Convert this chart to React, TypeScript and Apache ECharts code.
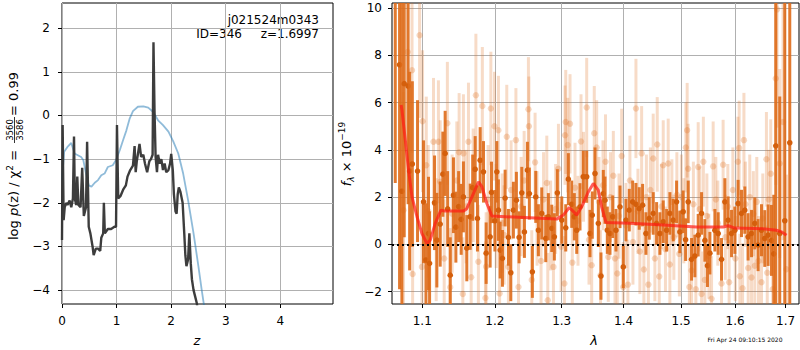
import React, { useEffect, useRef } from "react";
import * as echarts from "echarts";

const zTicks = [0, 1, 2, 3, 4];
const logpTicks = [-4, -3, -2, -1, 0, 1, 2];
const lamTicks = [1.1, 1.2, 1.3, 1.4, 1.5, 1.6, 1.7];
const fluxTicks = [-2, 0, 2, 4, 6, 8, 10];

// log p(z) (dark) and the smoother blue curve
const pzDark: [number, number][] = [
  [0.0, -2.85], [0.012, -0.22], [0.022, -1.5], [0.03, -2.4], [0.05, -2.1], [0.08, -2.0], [0.1, -2.05], [0.14, -1.95],
  [0.17, -2.1], [0.2, -1.9], [0.22, -0.48], [0.235, -1.9], [0.26, -2.05], [0.28, -1.4], [0.3, -2.05], [0.34, -2.1],
  [0.37, -1.2], [0.4, -2.3], [0.44, -2.1], [0.46, -0.6], [0.49, -2.55], [0.52, -2.7], [0.56, -3.0], [0.58, -3.2],
  [0.62, -3.05], [0.66, -3.05], [0.7, -3.1], [0.72, -2.8], [0.755, -2.7], [0.767, -2.0], [0.785, -2.7], [0.84, -2.6],
  [0.9, -2.6], [0.96, -2.55], [0.99, -2.55], [1.007, -0.22], [1.03, -1.9], [1.07, -1.85], [1.12, -1.7], [1.17, -1.6],
  [1.2, -1.4], [1.25, -1.25], [1.3, -1.15], [1.33, -0.7], [1.35, -1.3], [1.37, -1.05], [1.42, -0.65], [1.45, -0.95],
  [1.49, -0.9], [1.52, -1.1], [1.56, -1.3], [1.6, -1.05], [1.63, -1.0], [1.66, -0.9], [1.676, 1.68], [1.695, 0.1],
  [1.715, -0.95], [1.74, -1.3], [1.76, -0.9], [1.79, -1.1], [1.82, -1.0], [1.85, -1.25], [1.88, -1.1], [1.91, -1.3],
  [1.95, -1.25], [1.98, -1.1], [2.001, -0.88], [2.03, -1.25], [2.05, -1.8], [2.08, -2.2], [2.1, -2.25], [2.12, -1.8],
  [2.14, -1.65], [2.17, -1.75], [2.21, -2.0], [2.24, -2.7], [2.26, -3.2], [2.28, -3.45], [2.31, -3.3], [2.333, -2.7],
  [2.36, -3.4], [2.38, -3.75], [2.41, -4.0], [2.44, -4.15], [2.47, -4.3], [2.5, -4.6],
];

const pzBlue: [number, number][] = [
  [0.0, -1.48], [0.04, -0.83], [0.1, -0.72], [0.17, -0.63], [0.23, -0.87], [0.29, -0.91], [0.35, -0.95], [0.39, -1.02],
  [0.44, -1.33], [0.49, -1.6], [0.54, -1.63], [0.6, -1.54], [0.66, -1.48], [0.72, -1.37], [0.78, -1.33], [0.84, -1.18],
  [0.93, -1.14], [0.99, -1.02], [1.06, -0.79], [1.12, -0.56], [1.18, -0.34], [1.24, -0.07], [1.3, 0.1], [1.39, 0.2],
  [1.49, 0.21], [1.58, 0.18], [1.67, 0.08], [1.76, -0.11], [1.85, -0.22], [1.95, -0.37], [2.04, -0.6], [2.13, -0.87],
  [2.22, -1.33], [2.31, -1.94], [2.41, -2.7], [2.5, -3.46], [2.56, -4.0], [2.62, -4.5],
];

// spectrum: [lambda, flux, error]
const specDark: [number, number, number][] = [
  [1.065, 11.0, 8.4], [1.0705, 7.6, 9.5], [1.0735, 2.25, 8.0], [1.0765, 6.8, 6.5], [1.0815, 6.7, 5.0], [1.0835, 3.1, 4.2],
  [1.087, 3.4, 3.5], [1.0938, 3.1, 3.0], [1.1017, 1.8, 2.6], [1.1049, -0.66, 2.4], [1.1083, 0.46, 2.4], [1.1097, -0.8, 2.2],
  [1.1163, 1.76, 2.0], [1.1194, 0.18, 2.0], [1.1239, 0.86, 1.8], [1.1275, 2.97, 1.8], [1.1306, 3.85, 1.8], [1.134, 1.5, 1.6],
  [1.1375, -1.3, 1.6], [1.1419, 2.08, 1.6], [1.1452, 0.73, 1.5], [1.149, 1.6, 1.5], [1.1525, 1.06, 1.5], [1.1556, 2.01, 1.5],
  [1.1603, -0.16, 1.4], [1.165, 1.17, 1.4], [1.1685, 2.4, 1.4], [1.172, 3.18, 1.4], [1.1752, 1.1, 1.4], [1.179, 3.56, 1.4],
  [1.1837, 3.07, 1.3], [1.1875, -0.37, 1.3], [1.1932, 0.32, 1.3], [1.1951, 2.2, 1.3], [1.2, 1.0, 1.3], [1.2028, 3.07, 1.3],
  [1.2051, 1.45, 1.3], [1.2076, -0.24, 1.2], [1.2109, -0.59, 1.2], [1.2148, 1.96, 1.2], [1.2196, 0.3, 1.2], [1.2231, -1.2, 1.2],
  [1.2269, 1.45, 1.2], [1.2313, 1.87, 1.2], [1.2353, 0.3, 1.1], [1.2393, 2.18, 1.1], [1.2432, 0.53, 1.1], [1.2477, 3.14, 1.2],
  [1.2506, 2.15, 1.1], [1.2551, -1.16, 1.1], [1.2602, 2.01, 1.1], [1.2642, 0.6, 1.1], [1.2693, 1.31, 1.1], [1.2754, 0.25, 1.0],
  [1.2794, 1.17, 1.0], [1.2846, 0.68, 1.0], [1.2886, 0.32, 1.0], [1.2932, 2.18, 1.0], [1.3001, 1.03, 1.0], [1.3063, 0.7, 1.0],
  [1.3104, 2.76, 1.1], [1.3157, 1.7, 1.0], [1.3198, 1.17, 1.0], [1.3236, 0.6, 1.0], [1.3288, 1.59, 1.0], [1.3341, 2.86, 1.1],
  [1.3395, 2.86, 1.1], [1.3448, 0.46, 1.0], [1.3485, 1.24, 1.0], [1.3529, 3.0, 1.1], [1.3583, 0.89, 1.0], [1.3626, -1.34, 1.0],
  [1.3664, 2.15, 1.0], [1.3692, 1.87, 1.0], [1.373, 0.6, 1.0], [1.3774, 0.46, 0.9], [1.3819, 1.17, 0.9], [1.3873, 0.6, 0.9],
  [1.394, 1.59, 0.9], [1.3995, -0.95, 0.9], [1.404, 1.03, 0.9], [1.4096, 1.45, 0.9], [1.4153, 1.8, 0.9], [1.4209, 1.7, 0.9],
  [1.4265, 1.52, 0.9], [1.4323, 1.66, 0.9], [1.438, 0.46, 0.9], [1.4437, 1.1, 0.9], [1.4506, 1.31, 0.9], [1.4565, 0.89, 0.9],
  [1.4623, 0.46, 0.9], [1.4681, 0.96, 0.9], [1.4741, 0.6, 0.9], [1.4799, 1.31, 0.9], [1.4858, 1.03, 0.9], [1.4918, 1.8, 0.9],
  [1.4977, 0.53, 0.9], [1.5036, 1.38, 0.9], [1.508, 0.2, 0.9], [1.5127, 1.8, 0.9], [1.5188, -0.63, 0.9], [1.5248, -0.49, 0.9],
  [1.5309, 0.39, 0.9], [1.5371, 1.31, 0.9], [1.5432, 0.17, 0.9], [1.548, -0.9, 0.9], [1.5525, -0.37, 0.9], [1.5618, 0.6, 0.9],
  [1.568, 0.46, 0.9], [1.5743, -0.63, 0.9], [1.5806, 1.8, 1.0], [1.5868, 1.03, 1.0], [1.5933, 0.46, 1.0], [1.5996, 0.6, 1.0],
  [1.6059, 1.73, 1.0], [1.6124, 1.31, 1.0], [1.6188, 1.45, 1.0], [1.6252, 0.32, 1.0], [1.6319, 0.46, 1.0], [1.6383, 0.89, 1.1],
  [1.6448, -0.03, 1.1], [1.6515, 0.6, 1.1], [1.658, 0.25, 1.2], [1.6646, 0.39, 1.3], [1.6714, 0.17, 1.5], [1.676, -0.4, 2.5],
  [1.68, 4.17, 7.0], [1.688, 0.46, 5.8], [1.6982, 1.0, 11.0], [1.7084, 4.3, 10.0],
];

const specLight: [number, number, number][] = [
  [1.0755, 1.45, 5.0], [1.081, 8.14, 4.0], [1.0866, 7.37, 3.5], [1.0874, -1.25, 3.0], [1.0965, 8.85, 3.5], [1.0996, -0.95, 2.7],
  [1.1004, 5.21, 3.0], [1.1053, 3.35, 2.9], [1.1079, 1.4, 2.8], [1.1149, 4.34, 2.7], [1.1185, 0.2, 2.6], [1.1215, 4.34, 2.6],
  [1.1239, 2.65, 2.6], [1.1293, -0.6, 2.5], [1.1336, 5.12, 2.6], [1.1375, -1.81, 2.5], [1.1401, 1.3, 2.5], [1.1465, 2.7, 2.5],
  [1.1497, 3.9, 2.5], [1.1548, -2.1, 2.4], [1.1556, 3.85, 2.5], [1.1593, 1.6, 2.4], [1.1626, 4.34, 2.5], [1.1664, -1.39, 2.4],
  [1.1692, 2.5, 2.4], [1.173, 6.31, 2.6], [1.1765, -0.73, 2.4], [1.1821, 5.85, 2.5], [1.1865, -2.27, 2.4], [1.1875, -0.94, 2.3],
  [1.1903, 1.9, 2.3], [1.1942, 5.75, 2.4], [1.1994, 5.0, 2.3], [1.2018, 1.2, 2.2], [1.2051, 4.83, 2.3], [1.2068, -2.08, 2.2],
  [1.2105, 0.9, 2.1], [1.2133, 0.4, 2.1], [1.2172, 4.55, 2.2], [1.2196, -0.95, 2.1], [1.2235, 2.3, 2.1], [1.2306, 4.41, 2.2],
  [1.2344, -1.8, 2.1], [1.2383, 1.6, 2.1], [1.2428, 2.7, 2.1], [1.2492, 5.72, 2.2], [1.2499, 5.0, 2.1], [1.2542, -1.5, 2.1],
  [1.2592, 3.47, 2.1], [1.2622, 1.1, 2.0], [1.2682, -0.7, 2.0], [1.272, 1.9, 2.0], [1.277, 2.6, 2.0], [1.2785, -2.36, 2.0],
  [1.2828, 0.8, 1.9], [1.2872, -0.95, 1.9], [1.2905, 1.5, 1.9], [1.2949, 3.2, 1.9], [1.299, -0.1, 1.9], [1.3042, -1.65, 2.0],
  [1.3052, 4.62, 2.1], [1.3063, 5.18, 2.2], [1.3094, 4.2, 2.0], [1.313, 5.1, 2.1], [1.3166, -0.77, 1.9], [1.3209, 2.4, 1.9],
  [1.3256, 1.0, 1.9], [1.3304, 4.35, 2.0], [1.3344, 2.86, 1.9], [1.3395, 5.79, 2.1], [1.3432, 0.2, 1.9], [1.3475, -0.88, 1.9],
  [1.3517, 4.7, 2.0], [1.3556, 4.1, 2.0], [1.3594, 1.8, 1.9], [1.3618, -1.3, 1.9], [1.3659, 2.5, 1.9], [1.37, 3.5, 2.0],
  [1.3746, -0.53, 1.9], [1.3782, 2.0, 1.9], [1.3829, 2.9, 1.9], [1.3857, -0.6, 1.9], [1.3895, -1.23, 1.9], [1.3923, 1.2, 1.8],
  [1.3968, 3.74, 2.0], [1.3995, -1.8, 1.9], [1.404, 0.8, 1.8], [1.4073, -1.7, 1.9], [1.4107, 2.7, 1.9], [1.4158, 0.1, 1.8],
  [1.4209, 5.75, 2.1], [1.4243, 1.4, 1.8], [1.4276, -0.3, 1.8], [1.4306, 3.85, 2.0], [1.4345, -1.06, 1.8], [1.4388, 2.0, 1.8],
  [1.4422, -1.7, 1.9], [1.4457, 2.3, 1.8], [1.4506, 3.63, 1.9], [1.4535, -0.6, 1.8], [1.4576, 4.23, 2.0], [1.4611, -1.36, 1.8],
  [1.4649, 1.6, 1.8], [1.4681, 3.35, 1.9], [1.472, -0.2, 1.8], [1.4769, 3.42, 1.9], [1.4798, -0.85, 1.8], [1.4834, 1.8, 1.8],
  [1.4869, 0.3, 1.8], [1.4923, 2.1, 1.8], [1.4967, -0.4, 1.8], [1.5003, 2.0, 1.8], [1.5048, 1.0, 1.8], [1.5084, 4.1, 1.9],
  [1.5108, 4.83, 2.0], [1.5126, 3.2, 1.9], [1.5148, -1.8, 1.8], [1.5188, -1.1, 1.8], [1.5221, 1.7, 1.8], [1.5266, -1.9, 1.8],
  [1.5309, 3.27, 1.9], [1.5339, 1.5, 1.8], [1.5371, -2.1, 1.8], [1.5404, 3.5, 1.9], [1.5432, -1.5, 1.8], [1.5469, 1.2, 1.8],
  [1.5506, -0.5, 1.8], [1.5556, -2.3, 1.8], [1.5586, 3.3, 1.9], [1.5636, 1.9, 1.8], [1.5673, 0.9, 1.8], [1.5743, -1.65, 1.8],
  [1.5773, 3.37, 1.9], [1.5815, 0.3, 1.8], [1.5862, 1.6, 1.8], [1.5887, -1.6, 1.8], [1.5958, 2.3, 1.8], [1.6006, -0.6, 1.8],
  [1.6054, 3.5, 1.9], [1.6079, 4.08, 2.0], [1.6092, -1.35, 1.8], [1.6145, -1.85, 1.9], [1.6171, 4.41, 2.0], [1.62, 1.7, 1.8],
  [1.6254, -1.0, 1.8], [1.6284, 2.0, 1.8], [1.6319, -1.4, 1.8], [1.6354, 1.3, 1.8], [1.6383, -0.9, 1.8], [1.6422, 1.8, 1.9],
  [1.6456, -0.7, 1.9], [1.6515, -1.6, 1.9], [1.6541, 1.1, 1.9], [1.6613, 3.6, 2.0], [1.6629, -1.2, 2.0], [1.6659, 1.9, 2.1],
  [1.6699, 2.99, 2.3], [1.6738, -1.9, 2.5], [1.68, 7.02, 4.5], [1.6826, 9.94, 5.0], [1.6879, 3.42, 4.0], [1.6947, 5.18, 5.0],
  [1.7016, -1.05, 4.0],
];

const modelLine: [number, number][] = [
  [1.0725, 5.9], [1.0736, 5.68], [1.0779, 4.41], [1.0821, 3.14], [1.0866, 2.01], [1.0931, 1.17], [1.0996, 0.46], [1.1062, 0.04],
  [1.1106, 0.18], [1.1172, 0.89], [1.1249, 1.45], [1.13, 1.41], [1.1557, 1.41], [1.16, 1.5], [1.1675, 2.01], [1.1767, 2.65],
  [1.1815, 2.44], [1.1885, 1.73], [1.1957, 1.2], [1.2923, 1.07], [1.3025, 1.24], [1.3119, 1.56], [1.318, 1.4], [1.3237, 1.24],
  [1.3315, 1.59], [1.3421, 2.22], [1.3502, 2.58], [1.3582, 2.3], [1.3637, 1.59], [1.3708, 0.93], [1.4107, 0.89], [1.468, 0.82],
  [1.5278, 0.74], [1.5773, 0.74], [1.587, 0.79], [1.5995, 0.69], [1.6546, 0.66], [1.6813, 0.6], [1.692, 0.53], [1.7017, 0.39],
];

const FONT = "DejaVu Sans";
const minus = (s: string) => s.replace("-", "\u2212");

function errRender(barColor: string, dotColor: string, r: number) {
  return (params: any, api: any) => {
    const x = api.value(0);
    const y = api.value(1);
    const e = api.value(2);
    const p0 = api.coord([x, y - e]);
    const p1 = api.coord([x, y + e]);
    const c = api.coord([x, y]);
    return {
      type: "group",
      children: [
        { type: "line", shape: { x1: p0[0], y1: p0[1], x2: p1[0], y2: p1[1] }, style: { stroke: barColor, lineWidth: 3 } },
        { type: "circle", shape: { cx: c[0], cy: c[1], r }, style: { fill: dotColor } },
      ],
    };
  };
}

export default function App() {
  const ref = useRef<HTMLDivElement>(null);
  useEffect(() => {
    if (!ref.current) return;
    const chart = echarts.init(ref.current, null, { renderer: "svg" });
    const axisCommon = {
      axisLine: { show: false, onZero: false },
      axisTick: { show: true, inside: false, length: 4, lineStyle: { color: "#000", width: 1 } },
      splitLine: { show: true, lineStyle: { color: "#b0b0b0", width: 1 } },
    };
    const lblStyle = { color: "#000", fontSize: 12, fontFamily: FONT };
    const ln = (v: number) => Math.log(v);
    const option: any = {
      animation: false,
      textStyle: { fontFamily: FONT },
      grid: [
        { left: 62, top: 3, width: 271, height: 301, show: true, borderColor: "#000", borderWidth: 1, backgroundColor: "transparent" },
        { left: 392, top: 3, width: 407, height: 301, show: true, borderColor: "#000", borderWidth: 1, backgroundColor: "transparent" },
      ],
      xAxis: [
        {
          gridIndex: 0, type: "value", min: 0, max: 4.965, ...axisCommon,
          axisTick: { ...axisCommon.axisTick, customValues: zTicks },
          axisLabel: { ...lblStyle, margin: 11, customValues: zTicks, formatter: (v: number) => minus(String(v)) },
        },
        {
          gridIndex: 1, type: "value", min: 0.05907, max: 0.54661, ...axisCommon,
          axisTick: { ...axisCommon.axisTick, customValues: lamTicks.map(ln) },
          axisLabel: { ...lblStyle, margin: 11, customValues: lamTicks.map(ln), formatter: (v: number) => Math.exp(v).toFixed(1) },
        },
      ],
      yAxis: [
        {
          gridIndex: 0, type: "value", min: -4.318, max: 2.577, ...axisCommon,
          axisTick: { ...axisCommon.axisTick, customValues: logpTicks },
          axisLabel: { ...lblStyle, margin: 12, customValues: logpTicks, formatter: (v: number) => minus(String(v)) },
        },
        {
          gridIndex: 1, type: "value", min: -2.52, max: 10.21, ...axisCommon,
          axisTick: { ...axisCommon.axisTick, customValues: fluxTicks },
          axisLabel: { ...lblStyle, margin: 10, customValues: fluxTicks, formatter: (v: number) => minus(String(v)) },
        },
      ],
      series: [
        {
          type: "line", xAxisIndex: 0, yAxisIndex: 0, data: pzBlue, symbol: "none", smooth: false,
          lineStyle: { color: "#1f77b4", opacity: 0.5, width: 1.8 }, z: 2,
        },
        {
          type: "line", xAxisIndex: 0, yAxisIndex: 0, data: pzDark, symbol: "none", smooth: false,
          lineStyle: { color: "#333333", opacity: 0.95, width: 2.4 }, z: 3,
        },
        {
          type: "custom", xAxisIndex: 1, yAxisIndex: 1, clip: true, z: 2,
          data: specLight.map(([l, f, e]) => [ln(l), f, e]),
          encode: { x: 0, y: 1 },
          renderItem: errRender("rgba(224,112,32,0.25)", "rgba(224,112,32,0.28)", 3.2),
        },
        {
          type: "custom", xAxisIndex: 1, yAxisIndex: 1, clip: true, z: 3,
          data: specDark.map(([l, f, e]) => [ln(l), f, e]),
          encode: { x: 0, y: 1 },
          renderItem: errRender("rgba(222,108,25,0.9)", "#d45f0c", 2.8),
        },
        {
          type: "line", xAxisIndex: 1, yAxisIndex: 1, data: modelLine.map(([l, f]) => [ln(l), f]), symbol: "none",
          lineStyle: { color: "rgba(255,25,20,0.7)", width: 3 }, z: 4,
          markLine: {
            silent: true, symbol: "none", label: { show: false },
            lineStyle: { color: "#000", type: [2, 3], width: 2, opacity: 1 },
            data: [{ yAxis: 0 }],
          },
        },
      ],
      graphic: [
        { type: "text", x: 319, y: 20, style: { text: "j021524m0343", fontSize: 12, fontFamily: FONT, fill: "#000", align: "right", verticalAlign: "middle" } },
        { type: "text", x: 242, y: 34, style: { text: "ID=346", fontSize: 12, fontFamily: FONT, fill: "#000", align: "right", verticalAlign: "middle" } },
        { type: "text", x: 319, y: 34, style: { text: "z=1.6997", fontSize: 12, fontFamily: FONT, fill: "#000", align: "right", verticalAlign: "middle" } },
        { type: "text", x: 197, y: 340, style: { text: "z", fontSize: 13, fontStyle: "italic", fontFamily: FONT, fill: "#000", align: "center", verticalAlign: "middle" } },
        { type: "text", x: 594, y: 340, style: { text: "λ", fontSize: 13, fontStyle: "italic", fontFamily: FONT, fill: "#000", align: "center", verticalAlign: "middle" } },
        { type: "text", x: 745, y: 339, style: { text: "Fri Apr 24 09:10:15 2020", fontSize: 6, fontFamily: FONT, fill: "#000", align: "center", verticalAlign: "middle" } },
        {
          type: "group", x: 13, y: 154, rotation: Math.PI / 2,
          children: [
            {
              type: "text", x: -86, y: 0,
              style: {
                text: "{a|log }{i|p}{a|(z) / χ}{s|2}{a| = }",
                align: "left", verticalAlign: "middle", fill: "#000",
                rich: {
                  a: { fontSize: 13, fontFamily: FONT, lineHeight: 16, fill: "#000" },
                  i: { fontSize: 13, fontFamily: FONT, fontStyle: "italic", lineHeight: 16, fill: "#000" },
                  s: { fontSize: 9, fontFamily: FONT, verticalAlign: "top", lineHeight: 16, fill: "#000" },
                },
              },
            },
            { type: "text", x: 24, y: -3.5, style: { text: "3560", fontSize: 8.5, fontFamily: FONT, fill: "#000", align: "center", verticalAlign: "middle" } },
            { type: "line", shape: { x1: 11, y1: 1.5, x2: 37, y2: 1.5 }, style: { stroke: "#000", lineWidth: 0.8 } },
            { type: "text", x: 24, y: 7, style: { text: "3586", fontSize: 8.5, fontFamily: FONT, fill: "#000", align: "center", verticalAlign: "middle" } },
            { type: "text", x: 38, y: 0, style: { text: "= 0.99", fontSize: 13, fontFamily: FONT, fill: "#000", align: "left", verticalAlign: "middle" } },
          ],
        },
        {
          type: "group", x: 346, y: 154, rotation: Math.PI / 2,
          children: [
            {
              type: "text", x: 0, y: 0,
              style: {
                text: "{i|f}{b|λ}{a| × 10}{p|−19}",
                align: "center", verticalAlign: "middle", fill: "#000",
                rich: {
                  a: { fontSize: 13, fontFamily: FONT, lineHeight: 18, fill: "#000" },
                  i: { fontSize: 13, fontFamily: FONT, fontStyle: "italic", lineHeight: 18, fill: "#000" },
                  b: { fontSize: 9, fontFamily: FONT, fontStyle: "italic", verticalAlign: "bottom", lineHeight: 18, fill: "#000" },
                  p: { fontSize: 9, fontFamily: FONT, verticalAlign: "top", lineHeight: 18, fill: "#000" },
                },
              },
            },
          ],
        },
      ],
    };
    chart.setOption(option);
    return () => chart.dispose();
  }, []);
  return <div ref={ref} style={{ position: "absolute", left: 0, top: 0, width: 800, height: 350 }} />;
}
